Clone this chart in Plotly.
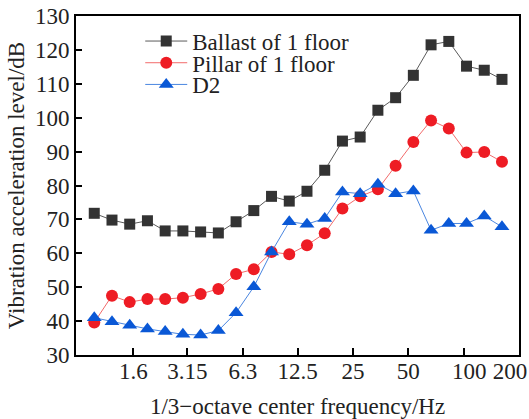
import plotly.graph_objects as go

# 1/3-octave band centre frequencies (Hz)
bands = [1, 1.25, 1.6, 2, 2.5, 3.15, 4, 5, 6.3, 8, 10, 12.5, 16, 20,
         25, 31.5, 40, 50, 63, 80, 100, 125, 160, 200]

# Vibration acceleration levels (dB)
ballast_1f = [71.8, 69.8, 68.6, 69.6, 66.6, 66.6, 66.3, 66.0, 69.3, 72.6,
              76.8, 75.4, 78.3, 84.5, 93.1, 94.3, 102.2, 105.9, 112.5, 121.5,
              122.5, 115.2, 114.0, 111.3]
pillar_1f = [39.6, 47.5, 45.6, 46.5, 46.5, 46.9, 48.0, 49.5, 53.9, 55.3,
             60.4, 59.7, 62.4, 65.9, 73.2, 76.8, 78.9, 85.8, 92.8, 99.2,
             96.8, 89.7, 89.9, 87.0]
d2 = [41.0, 39.8, 38.8, 37.7, 36.9, 36.1, 35.9, 37.2, 42.5, 50.1,
      60.4, 69.3, 68.6, 70.3, 78.1, 77.6, 80.4, 77.6, 78.4, 66.8,
      68.8, 68.8, 71.0, 67.8]

# Frequency tick labels on the octave scale
tick_freqs = [1.6, 3.15, 6.3, 12.5, 25, 50, 100]
tick_text = ["1.6", "3.15", "6.3", "12.5", "25", "50", "\u00a0\u00a0100"]
end_freq = [200]
end_text = ["200"]

FONT = "Liberation Serif, Times New Roman, serif"
FS = 23
TXT = "#222222"
FREQ_RANGE = [-0.108, 2.3012]  # log10 Hz
idx = list(range(len(bands)))

series = [
    ("Ballast of 1 floor", ballast_1f, "#333333", "#5a5a5a", "square", 11, "legend"),
    ("Pillar of 1 floor", pillar_1f, "#ee1c24", "#f26b6b", "circle", 12, "legend2"),
    ("D2", d2, "#0a58d6", "#4a86e0", "triangle-up", 13, "legend3"),
]

fig = go.Figure()
for name, vals, mcol, lcol, sym, sz, leg in series:
    fig.add_trace(go.Scatter(
        x=idx, y=vals, name=name, mode="lines+markers",
        line=dict(color=lcol, width=1),
        marker=dict(symbol=sym, size=sz, color=mcol, line=dict(width=0)),
        customdata=bands, legend=leg,
        hovertemplate="%{customdata} Hz: %{y} dB<extra>" + name + "</extra>",
    ))

# Log-frequency axes carrying the octave tick labels
for ax in ("x2", "x3"):
    fig.add_trace(go.Scatter(x=[], y=[], xaxis=ax, showlegend=False,
                             hoverinfo="skip"))


def legend_box(ypos):
    return dict(
        x=0.145, y=ypos, xanchor="left", yanchor="middle",
        bgcolor="rgba(0,0,0,0)", borderwidth=0,
        font=dict(family=FONT, size=FS, color=TXT),
        itemwidth=42,
    )


freq_axis = dict(
    type="log", overlaying="x", anchor="y", side="bottom",
    range=FREQ_RANGE, showgrid=False, zeroline=False,
    showline=False, automargin=False, tickmode="array",
    ticks="inside", ticklen=7, tickwidth=2, tickcolor="black",
    tickfont=dict(family=FONT, size=FS, color=TXT),
)

fig.update_layout(
    width=529, height=419,
    margin=dict(l=76, r=10, t=16, b=64, autoexpand=False),
    paper_bgcolor="white", plot_bgcolor="white",
    font=dict(family=FONT, size=FS, color=TXT),
    showlegend=True,
    legend=legend_box(0.926),
    legend2=legend_box(0.862),
    legend3=legend_box(0.798),
    xaxis=dict(
        range=[-1.03, 23.96], showgrid=False, zeroline=False,
        showline=True, linecolor="black", linewidth=2, mirror=True,
        ticks="", showticklabels=False, automargin=False,
    ),
    xaxis2=dict(
        freq_axis, tickvals=tick_freqs, ticktext=tick_text,
        title=dict(text="1/3\u2212octave center frequency/Hz",
                   font=dict(family=FONT, size=FS, color=TXT),
                   standoff=15),
    ),
    xaxis3=dict(
        freq_axis, tickvals=end_freq, ticktext=end_text,
        ticklabelshift=-9, ticklabeloverflow="allow",
    ),
    yaxis=dict(
        range=[30, 130], dtick=10, showgrid=False, zeroline=False,
        showline=True, linecolor="black", linewidth=2, mirror=True,
        ticks="inside", ticklen=6, tickwidth=2, tickcolor="black",
        automargin=False,
        tickfont=dict(family=FONT, size=FS, color=TXT),
        title=dict(text="Vibration acceleration level/dB",
                   font=dict(family=FONT, size=FS, color=TXT),
                   standoff=4),
    ),
)

fig.write_html("out.html")
